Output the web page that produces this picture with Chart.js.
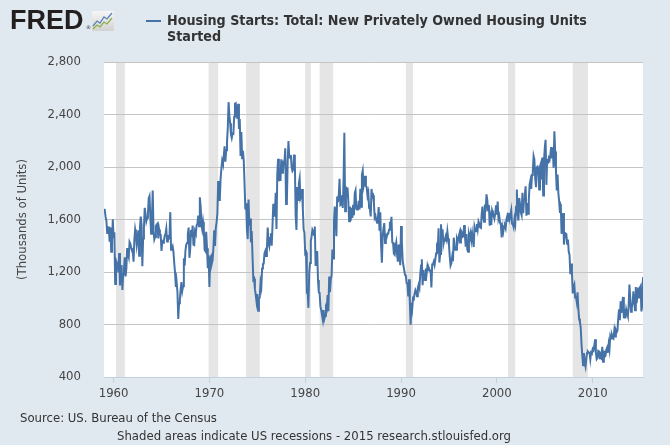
<!DOCTYPE html>
<html>
<head>
<meta charset="utf-8">
<title>Housing Starts</title>
<script src="https://cdn.jsdelivr.net/npm/chart.js@4.4.0/dist/chart.umd.min.js"></script>
<style>
  body{margin:0;background:#e1e9f0;}
  #wrap{position:relative;width:670px;height:445px;overflow:hidden;font-family:"DejaVu Sans Condensed","DejaVu Sans",sans-serif;color:#333;}
  #wrap canvas{position:absolute;left:0;top:0;}
  .logo{position:absolute;left:10px;top:7px;font:bold 27px/27px "Liberation Sans",Arial,sans-serif;color:#231f20;letter-spacing:0;}
  .reg{position:absolute;left:86px;top:25px;font:5px/5px "DejaVu Sans",sans-serif;color:#231f20;}
  .icon{position:absolute;left:92px;top:11px;}
  .key{position:absolute;left:146px;top:20px;width:15px;height:2px;background:#4572a7;}
  .title{position:absolute;left:167px;top:12px;font-weight:bold;font-size:14.2px;line-height:16px;color:#333;white-space:nowrap;}
  .note{position:absolute;font-size:13px;line-height:16px;color:#333;white-space:nowrap;}
</style>
</head>
<body>
<div id="wrap">
  <canvas id="grafico" width="670" height="445"></canvas>
  <div class="logo">FRED</div>
  <div class="reg">®</div>
  <svg class="icon" width="22" height="20" viewBox="0 0 22 20">
    <defs><linearGradient id="gr" x1="0" y1="0" x2="0" y2="1"><stop offset="0" stop-color="#f6f6f6"/><stop offset="1" stop-color="#d2d2d2"/></linearGradient></defs>
    <rect width="22" height="20" rx="1.5" fill="url(#gr)"/>
    <polyline points="1,15 5,10 8,12 12,6 15,8 20,2" fill="none" stroke="#5b86b8" stroke-width="1.3"/>
    <polyline points="1,18 5,14 8,16 12,11 15,13 20,7" fill="none" stroke="#8fb04a" stroke-width="1.3"/>
  </svg>
  <div class="key"></div>
  <div class="title">Housing Starts: Total: New Privately Owned Housing Units<br>Started</div>
  <div class="note" style="left:20px;top:410px;">Source: US. Bureau of the Census</div>
  <div class="note" style="left:117px;top:428px;">Shaded areas indicate US recessions - 2015 research.stlouisfed.org</div>
</div>
<script>
// monthly, seasonally adjusted annual rate, thousands of units (Jan 1959 - Apr 2015)
const anoInicial = 1959;
const inicios = [
  1680,1667,1620,1590,1498,1503,1547,1430,1540,1355,1416,1601, // 1959
  1460,1503,1109,1289,1271,1247,1197,1344,1097,1246,1246,1063, // 1960
  1183,1226,1312,1166,1228,1382,1335,1312,1429,1415,1385,1365, // 1961
  1361,1278,1443,1524,1483,1404,1450,1517,1324,1533,1622,1564, // 1962
  1244,1456,1534,1689,1641,1588,1614,1639,1763,1779,1622,1491, // 1963
  1603,1820,1517,1448,1467,1550,1562,1569,1455,1524,1486,1484, // 1964
  1361,1433,1423,1438,1478,1488,1529,1432,1482,1452,1460,1656, // 1965
  1370,1378,1394,1352,1265,1194,1086,1119,1046,843,961,990,    // 1966
  1067,1123,1056,1091,1304,1248,1364,1407,1421,1491,1538,1308, // 1967
  1380,1520,1466,1554,1408,1405,1512,1495,1556,1569,1630,1548, // 1968
  1769,1705,1561,1524,1583,1528,1368,1358,1507,1381,1229,1327, // 1969
  1085,1305,1319,1264,1290,1385,1517,1399,1534,1580,1647,1893, // 1970
  1828,1741,1910,1986,2049,2026,2083,2158,2041,2128,2182,2295, // 1971
  2494,2390,2334,2249,2221,2254,2252,2382,2481,2485,2421,2366, // 1972
  2481,2289,2365,2084,2266,2067,2123,2051,1874,1677,1724,1526, // 1973
  1451,1752,1555,1607,1426,1513,1316,1142,1150,1070,1026,975,  // 1974
  1032,904,993,1005,1121,1087,1226,1260,1264,1344,1360,1321,   // 1975
  1367,1538,1421,1395,1459,1495,1401,1550,1720,1629,1641,1804, // 1976
  1527,1943,2063,1892,1971,1893,2058,2020,1949,2042,2042,2142, // 1977
  1718,1738,2032,2197,2075,2070,2092,1996,1970,1981,2094,2044, // 1978
  1630,1520,1847,1748,1876,1913,1760,1778,1832,1681,1524,1498, // 1979
  1341,1350,1047,1051,927,1196,1269,1436,1471,1523,1510,1482,  // 1980
  1547,1246,1306,1360,1140,1045,1041,940,911,873,837,910,      // 1981
  843,866,931,917,1025,902,1166,1046,1144,1173,1372,1303,      // 1982
  1586,1699,1606,1472,1776,1733,1785,1910,1710,1715,1785,1688, // 1983
  1897,2260,1663,1851,1774,1843,1732,1586,1698,1590,1689,1612, // 1984
  1711,1632,1800,1821,1680,1676,1684,1743,1676,1834,1698,1942, // 1985
  1972,1848,1876,1933,1854,1847,1782,1807,1687,1681,1623,1833, // 1986
  1774,1784,1726,1614,1628,1594,1575,1605,1695,1515,1656,1400, // 1987
  1271,1473,1532,1573,1421,1478,1467,1493,1492,1522,1569,1563, // 1988
  1621,1425,1422,1339,1331,1397,1427,1332,1279,1410,1351,1251, // 1989
  1551,1437,1289,1248,1212,1177,1171,1115,1110,1014,1145,969,  // 1990
  798,965,921,1001,996,1036,1063,1049,1015,1079,1103,1079,     // 1991
  1176,1250,1297,1099,1214,1145,1139,1226,1186,1244,1214,1227, // 1992
  1210,1210,1083,1258,1260,1280,1254,1300,1343,1392,1376,1533, // 1993
  1272,1337,1564,1465,1526,1409,1439,1450,1474,1450,1511,1455, // 1994
  1407,1316,1249,1267,1314,1281,1461,1416,1369,1369,1452,1431, // 1995
  1467,1491,1424,1516,1504,1467,1472,1557,1475,1392,1489,1370, // 1996
  1355,1486,1457,1492,1442,1494,1437,1390,1546,1520,1510,1566, // 1997
  1525,1584,1567,1540,1536,1641,1698,1614,1582,1715,1660,1792, // 1998
  1748,1670,1710,1553,1611,1559,1669,1648,1635,1608,1648,1708, // 1999
  1636,1737,1604,1626,1575,1559,1463,1541,1507,1549,1551,1532, // 2000
  1600,1625,1590,1649,1605,1636,1670,1567,1562,1540,1602,1568, // 2001
  1698,1829,1642,1592,1764,1717,1655,1633,1804,1648,1753,1788, // 2002
  1853,1629,1726,1643,1751,1867,1897,1833,1939,1967,2083,2057, // 2003
  1911,1846,1998,2003,1981,1828,2002,2024,1905,2072,1782,2042, // 2004
  2144,2207,1864,2061,2025,2068,2054,2095,2151,2065,2147,1994, // 2005
  2273,2119,1969,1821,1942,1802,1737,1650,1720,1491,1570,1649, // 2006
  1409,1480,1495,1490,1415,1448,1354,1330,1183,1264,1197,1037, // 2007
  1084,1103,1005,1013,973,1046,923,844,820,777,652,560,        // 2008
  490,582,505,478,540,585,594,586,585,534,588,581,             // 2009
  614,604,636,687,583,536,546,599,594,543,545,539,             // 2010
  630,517,600,554,561,608,623,585,650,610,711,694,             // 2011
  723,704,695,753,708,757,740,754,847,915,833,976,             // 2012
  888,962,1010,847,919,846,914,887,865,936,1105,1003,          // 2013
  897,928,963,1053,985,909,1085,963,1020,1081,1006,1081,       // 2014
  1093,900,944,1160                                            // 2015
];

// recessoes (pico e vale, inclusive)
const recessaoInicio = ['1960-04','1969-12','1973-11','1980-01','1981-07','1990-07','2001-03','2007-12'];
const recessaoFim    = ['1961-02','1970-11','1975-03','1980-07','1982-11','1991-03','2001-11','2009-06'];

const anosEixo = [1960, 1970, 1980, 1990, 2000, 2010];
const valoresEixo = [400, 800, 1200, 1600, 2000, 2400, 2800];

function mesParaAno(texto){
    const partes = texto.split('-');
    return Number(partes[0]) + (Number(partes[1]) - 1) / 12;
}

const fonte = {family: '"DejaVu Sans Condensed", "DejaVu Sans", sans-serif', size: 13};

const sombreado = {
    id: 'sombreado',
    beforeDraw(chart){
        const {ctx, chartArea: a, scales: {x}} = chart;
        ctx.save();
        ctx.fillStyle = '#ffffff';
        ctx.fillRect(a.left, a.top, a.right - a.left, a.bottom - a.top);
        ctx.fillStyle = '#e5e5e5';
        recessaoInicio.forEach((ini, i) => {
            const x0 = x.getPixelForValue(mesParaAno(ini));
            const x1 = x.getPixelForValue(mesParaAno(recessaoFim[i]) + 1 / 12);
            ctx.fillRect(x0, a.top, x1 - x0, a.bottom - a.top);
        });
        ctx.restore();
    }
};

new Chart(document.getElementById('grafico'), {
    type: 'line',
    data: {
        datasets: [{
            label: 'Housing Starts: Total: New Privately Owned Housing Units Started',
            data: inicios.map((v, i) => ({x: anoInicial + i / 12, y: v})),
            borderColor: '#4572a7',
            borderWidth: 2,
            pointRadius: 0,
            tension: 0,
            fill: false
        }]
    },
    options: {
        responsive: false,
        animation: false,
        devicePixelRatio: 1,
        layout: {padding: {top: 62, right: 27, bottom: 0, left: 0}},
        plugins: {legend: {display: false}, tooltip: {enabled: false}},
        scales: {
            x: {
                type: 'linear',
                min: anoInicial,
                max: anoInicial + (inicios.length - 1) / 12,
                afterBuildTicks: s => { s.ticks = anosEixo.map(v => ({value: v})); },
                afterFit: s => { s.height = 68; },
                grid: {drawOnChartArea: false, drawTicks: true, tickLength: 6, color: '#c3d1df'},
                border: {color: '#c3d1df'},
                ticks: {padding: 3, color: '#444', font: fonte, maxRotation: 0, callback: v => String(v)}
            },
            y: {
                min: 400,
                max: 2800,
                afterBuildTicks: s => { s.ticks = valoresEixo.map(v => ({value: v})); },
                afterFit: s => { s.width = 104; },
                grid: {color: '#c4c4c4', drawTicks: false},
                border: {display: false},
                ticks: {padding: 23, color: '#444', font: fonte, callback: v => v.toLocaleString('en-US')},
                title: {display: true, text: '(Thousands of Units)', color: '#444', font: fonte, padding: {top: 15, bottom: 0}}
            }
        }
    },
    plugins: [sombreado]
});
</script>
</body>
</html>
